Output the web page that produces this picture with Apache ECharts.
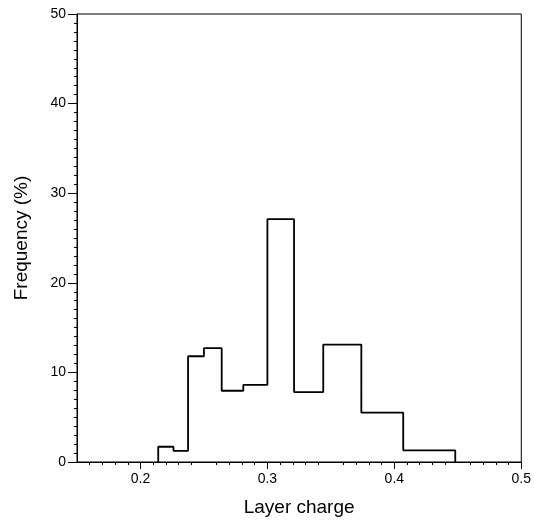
<!DOCTYPE html>
<html>
<head>
<meta charset="utf-8">
<script src="https://cdn.jsdelivr.net/npm/echarts@6/dist/echarts.min.js"></script>
<style>
html, body { margin: 0; padding: 0; background: #fff; }
#chart { width: 534px; height: 522px; }
</style>
</head>
<body>
<div id="chart"></div>
<script>
// bin edges (layer charge) and frequency (%) of each bin
var binEdges = [0.214, 0.226, 0.2375, 0.250, 0.264, 0.281, 0.300, 0.321, 0.344, 0.374, 0.407, 0.448];
var binFreq = [1.7, 1.25, 11.8, 12.7, 7.95, 8.6, 27.1, 7.8, 13.1, 5.5, 1.3];
var xTicks = [0.2, 0.3, 0.4, 0.5];
var yTicks = [0, 10, 20, 30, 40, 50];

// outline of the histogram as a step line
function buildOutline() {
	var pts = [[binEdges[0], 0]];
	for (var i = 0; i < binFreq.length; i++) {
		pts.push([binEdges[i], binFreq[i]]);
		pts.push([binEdges[i + 1], binFreq[i]]);
	}
	pts.push([binEdges[binEdges.length - 1], 0]);
	return pts;
}

var myChart = echarts.init(document.getElementById('chart'));
var font = 'Liberation Sans, Arial, sans-serif';
var option = {
	animation: false,
	grid: {
		left: 77, right: 10, top: 14, bottom: 59,
		show: true, borderColor: '#000', borderWidth: 1
	},
	xAxis: {
		type: 'value',
		min: 0.15, max: 0.5, interval: 0.05,
		name: 'Layer charge',
		nameLocation: 'middle',
		nameGap: 36,
		nameTextStyle: { fontFamily: font, fontSize: 19, color: '#000' },
		axisLine: { lineStyle: { color: '#000', width: 1 } },
		axisTick: { show: true, length: 7, lineStyle: { color: '#000' },
			customValues: xTicks },
		minorTick: { show: true, splitNumber: 5, length: 3, lineStyle: { color: '#000' } },
		axisLabel: {
			fontFamily: font, fontSize: 14, color: '#000', margin: 10,
			customValues: xTicks,
			formatter: function (v) { return String(Math.round(v * 10) / 10); }
		},
		splitLine: { show: false }
	},
	yAxis: {
		type: 'value',
		min: 0, max: 50, interval: 10,
		name: 'Frequency (%)',
		nameLocation: 'middle',
		nameGap: 46,
		nameTextStyle: { fontFamily: font, fontSize: 19, color: '#000' },
		axisLine: { show: true, lineStyle: { color: '#000', width: 1 } },
		axisTick: { show: true, length: 9, lineStyle: { color: '#000' },
			customValues: yTicks },
		minorTick: { show: true, splitNumber: 10, length: 3, lineStyle: { color: '#000' } },
		axisLabel: { fontFamily: font, fontSize: 14, color: '#000', margin: 11,
			customValues: yTicks },
		splitLine: { show: false }
	},
	series: [{
		type: 'line',
		data: buildOutline(),
		showSymbol: false,
		symbol: 'none',
		lineStyle: { color: '#000', width: 1.8 }
	}]
};
myChart.setOption(option);
</script>
</body>
</html>
